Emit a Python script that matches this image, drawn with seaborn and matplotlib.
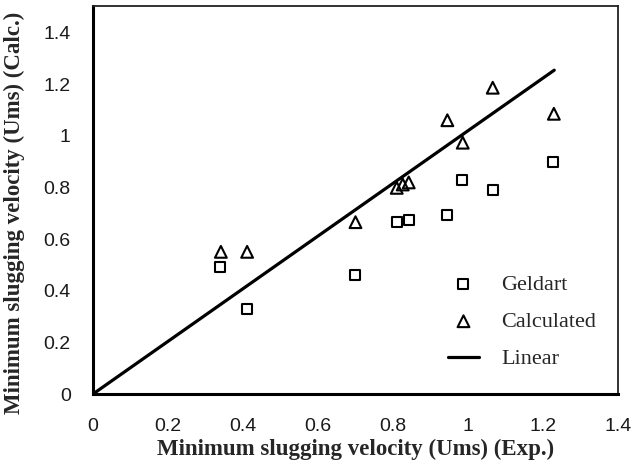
import matplotlib
matplotlib.use("Agg")
import matplotlib.pyplot as plt
import seaborn as sns
import pandas as pd

sns.set_theme(style="white")
plt.rcParams['font.family'] = ['Liberation Sans', 'DejaVu Sans']

geldart_x = [0.338, 0.410, 0.699, 0.810, 0.842, 0.945, 0.985, 1.066, 1.227]
geldart_y = [0.493, 0.330, 0.462, 0.666, 0.676, 0.693, 0.831, 0.789, 0.900]
calc_x = [0.341, 0.411, 0.700, 0.810, 0.826, 0.842, 0.945, 0.986, 1.066, 1.229]
calc_y = [0.551, 0.551, 0.666, 0.799, 0.812, 0.820, 1.061, 0.974, 1.187, 1.086]
linear_x = [0.0, 1.23]
linear_y = [0.0, 1.255]

xticks = [0, 0.2, 0.4, 0.6, 0.8, 1, 1.2, 1.4]
xtick_labels = ["0", "0.2", "0.4", "0.6", "0.8", "1", "1.2", "1.4"]
yticks = [0, 0.2, 0.4, 0.6, 0.8, 1, 1.2, 1.4]
ytick_labels = ["0", "0.2", "0.4", "0.6", "0.8", "1", "1.2", "1.4"]

df_g = pd.DataFrame({"x": geldart_x, "y": geldart_y})
df_c = pd.DataFrame({"x": calc_x, "y": calc_y})
df_l = pd.DataFrame({"x": linear_x, "y": linear_y})

fig = plt.figure(figsize=(6.44, 4.67), dpi=100)
ax = fig.add_axes([0.1444, 0.1563, 0.8152, 0.831])

sns.lineplot(data=df_l, x="x", y="y", ax=ax, color="black", linewidth=2.3, label="Linear", zorder=2)
sns.scatterplot(data=df_g, x="x", y="y", ax=ax, marker="s", s=52, facecolor="none",
                edgecolor="black", linewidth=1.5, label="Geldart", zorder=3)
sns.scatterplot(data=df_c, x="x", y="y", ax=ax, marker="^", s=72, facecolor="none",
                edgecolor="black", linewidth=1.5, label="Calculated", zorder=3)

ax.set_xlim(0, 1.4)
ax.set_ylim(0, 1.504)
ax.set_xticks(xticks)
ax.set_xticklabels(xtick_labels, fontsize=14, color="#1a1a1a")
ax.set_yticks(yticks)
ax.set_yticklabels(ytick_labels, fontsize=14, color="#1a1a1a")
ax.tick_params(axis="both", direction="out", length=3, width=0.8, color="#666666")
ax.tick_params(axis="x", pad=14)
ax.tick_params(axis="y", pad=13)

for side in ["left", "bottom"]:
    ax.spines[side].set_linewidth(2.2)
    ax.spines[side].set_color("black")
for side in ["top", "right"]:
    ax.spines[side].set_linewidth(1.3)
    ax.spines[side].set_color("#222222")

serif = ['Liberation Serif', 'DejaVu Serif']
ax.set_xlabel("Minimum slugging velocity (Ums) (Exp.)", fontsize=16.5, fontweight="bold",
              family=serif, labelpad=3)
ax.set_ylabel("Minimum slugging velocity (Ums) (Calc.)", fontsize=16.5, fontweight="bold",
              family=serif)
ax.yaxis.set_label_coords(-0.13, 0.468)

handles, labels = ax.get_legend_handles_labels()
order = [labels.index("Geldart"), labels.index("Calculated"), labels.index("Linear")]
leg = ax.legend([handles[i] for i in order], [labels[i] for i in order],
                loc="upper left", bbox_to_anchor=(0.638, 0.36), frameon=False,
                prop={"family": serif, "size": 16}, handlelength=1.4,
                labelspacing=0.75, handletextpad=1.0, borderpad=0.4)

fig.savefig("out.png", dpi=100)
